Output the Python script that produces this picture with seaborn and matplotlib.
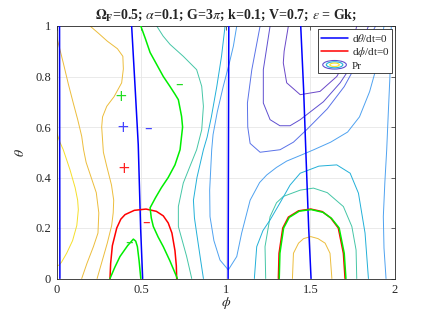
import matplotlib
matplotlib.use("Agg")
import matplotlib.pyplot as plt
import seaborn as sns
import numpy as np
import pandas as pd
from matplotlib.legend_handler import HandlerBase
from matplotlib.patches import Ellipse
from matplotlib.lines import Line2D

# ---------------- data (phi, theta) ----------------
theta_null_1 = [(0.018, 1.0), (0.019, 0.5), (0.020, 0.0)]
theta_null_2 = [(0.444, 1.0), (0.465, 0.75), (0.483, 0.53), (0.497, 0.2), (0.509, 0.0)]
theta_null_3 = [(1.018, 1.0), (1.016, 0.5), (1.014, 0.0)]
theta_null_4 = [(1.443, 1.0), (1.46, 0.75), (1.475, 0.47), (1.49, 0.2), (1.504, 0.0)]

phi_null_1 = [(0.316, 0.0), (0.320, 0.06), (0.330, 0.13), (0.356, 0.2), (0.38, 0.235), (0.405, 0.253),
              (0.46, 0.27), (0.529, 0.275), (0.59, 0.266), (0.631, 0.248), (0.66, 0.22), (0.682, 0.18),
              (0.70, 0.11), (0.708, 0.05), (0.71, 0.0)]
phi_null_2 = [(1.311, 0.0), (1.315, 0.1), (1.337, 0.2), (1.37, 0.243), (1.43, 0.268), (1.502, 0.275),
              (1.57, 0.265), (1.62, 0.24), (1.665, 0.2), (1.695, 0.1), (1.705, 0.0)]

pr_zero_1 = [(0.498, 1.0), (0.525, 0.95), (0.553, 0.895), (0.59, 0.85), (0.631, 0.80), (0.671, 0.76),
             (0.70, 0.73), (0.72, 0.708), (0.739, 0.642), (0.745, 0.60), (0.73, 0.51), (0.70, 0.45),
             (0.66, 0.40), (0.62, 0.36), (0.585, 0.32), (0.553, 0.28), (0.56, 0.24), (0.572, 0.206),
             (0.60, 0.165), (0.631, 0.126), (0.67, 0.07), (0.714, 0.0)]
pr_zero_2 = [(0.316, 0.0), (0.345, 0.045), (0.375, 0.087), (0.42, 0.13), (0.454, 0.156), (0.468, 0.148),
             (0.478, 0.126), (0.488, 0.07), (0.498, 0.0)]
pr_zero_3 = [(1.316, 0.0), (1.32, 0.1), (1.342, 0.2), (1.375, 0.242), (1.435, 0.267), (1.505, 0.273),
             (1.575, 0.262), (1.625, 0.238), (1.67, 0.2), (1.70, 0.1), (1.71, 0.0)]

pr_yellow_1 = [(0.0, 0.58), (0.02, 0.54), (0.04, 0.51), (0.08, 0.43), (0.11, 0.36), (0.125, 0.31),
               (0.129, 0.272), (0.12, 0.21), (0.095, 0.15), (0.06, 0.1), (0.03, 0.065), (0.015, 0.053),
               (0.0, 0.05)]
pr_orange_1 = [(0.0, 0.96), (0.04, 0.854), (0.07, 0.77), (0.099, 0.695), (0.125, 0.63), (0.149, 0.563),
               (0.16, 0.51), (0.175, 0.46), (0.20, 0.41), (0.235, 0.34), (0.25, 0.26), (0.245, 0.18),
               (0.218, 0.126), (0.18, 0.06), (0.149, 0.0)]
pr_orange_2 = [(0.198, 1.0), (0.25, 0.97), (0.30, 0.94), (0.36, 0.91), (0.392, 0.88), (0.395, 0.83),
               (0.385, 0.775), (0.34, 0.72), (0.297, 0.682), (0.272, 0.64), (0.267, 0.6), (0.272, 0.55),
               (0.277, 0.5), (0.297, 0.444), (0.325, 0.37), (0.338, 0.31), (0.335, 0.26), (0.326, 0.21),
               (0.30, 0.14), (0.27, 0.07), (0.24, 0.0)]
pr_orange_3 = [(1.394, 0.0), (1.40, 0.1), (1.43, 0.14), (1.46, 0.158), (1.502, 0.166), (1.545, 0.158),
               (1.587, 0.14), (1.616, 0.1), (1.627, 0.0)]
pr_teal_1 = [(0.592, 1.0), (0.63, 0.96), (0.671, 0.927), (0.749, 0.88), (0.828, 0.827), (0.858, 0.761),
             (0.868, 0.682), (0.858, 0.589), (0.828, 0.51), (0.78, 0.43), (0.749, 0.378), (0.72, 0.285),
             (0.72, 0.206), (0.769, 0.087), (0.799, 0.0)]
pr_teal_2 = [(1.236, 0.0), (1.232, 0.126), (1.262, 0.245), (1.30, 0.30), (1.34, 0.325), (1.44, 0.35),
             (1.518, 0.358), (1.60, 0.34), (1.695, 0.285), (1.745, 0.206), (1.77, 0.113), (1.774, 0.0)]
pr_cyan_1 = [(0.996, 1.0), (0.975, 0.88), (0.947, 0.76), (0.915, 0.64), (0.89, 0.56), (0.868, 0.51),
             (0.83, 0.40), (0.809, 0.31), (0.815, 0.24), (0.828, 0.18), (0.85, 0.08), (0.868, 0.0)]
pr_cyan_2 = [(1.169, 0.0), (1.183, 0.126), (1.22, 0.19), (1.262, 0.232), (1.321, 0.30), (1.38, 0.37),
             (1.44, 0.417), (1.55, 0.445), (1.656, 0.45), (1.735, 0.417), (1.784, 0.338), (1.823, 0.18),
             (1.843, 0.0)]
pr_lblue_1 = [(1.065, 1.0), (1.045, 0.92), (1.02, 0.85), (0.985, 0.76), (0.95, 0.66), (0.925, 0.57),
              (0.917, 0.51), (0.905, 0.35), (0.907, 0.245), (0.93, 0.15), (0.966, 0.073), (1.015, 0.034),
              (1.065, 0.087), (1.094, 0.18), (1.144, 0.31), (1.2, 0.38), (1.242, 0.41), (1.30, 0.44),
              (1.36, 0.465), (1.45, 0.49), (1.52, 0.51), (1.62, 0.54), (1.72, 0.58), (1.79, 0.64),
              (1.85, 0.74), (1.90, 0.86), (1.935, 1.0)]
pr_lblue_2 = [(1.947, 0.0), (1.935, 0.12), (1.931, 0.245), (1.94, 0.38), (1.951, 0.51), (1.96, 0.65),
              (1.97, 0.8), (1.978, 1.0)]
pr_blue_1 = [(1.203, 1.0), (1.154, 0.827), (1.128, 0.695), (1.13, 0.6), (1.144, 0.535), (1.203, 0.5),
             (1.321, 0.51), (1.40, 0.54), (1.479, 0.59), (1.60, 0.672), (1.70, 0.76), (1.79, 0.87),
             (1.885, 1.0)]
pr_purple_1 = [(1.262, 1.0), (1.222, 0.827), (1.222, 0.695), (1.262, 0.629), (1.32, 0.605), (1.38, 0.605),
               (1.44, 0.629), (1.577, 0.70), (1.676, 0.775), (1.77, 0.87), (1.843, 1.0)]
pr_purple_2 = [(1.37, 1.0), (1.345, 0.9), (1.34, 0.854), (1.36, 0.775), (1.44, 0.728), (1.557, 0.741),
               (1.656, 0.8), (1.735, 0.894), (1.774, 1.0)]

sign_labels = ["+", "+", "-", "+", "-", "-", "-"]
sign_phi = [0.381, 0.391, 0.543, 0.399, 0.529, 0.428, 0.726]
sign_theta = [0.72, 0.60, 0.596, 0.437, 0.221, 0.142, 0.768]
sign_colors = ["#22dd22", "#4444ff", "#4444ff", "#ff2222", "#ff2222", "#22dd22", "#22dd22"]

x_ticks = [0, 0.5, 1, 1.5, 2]
x_tick_labels = ["0", "0.5", "1", "1.5", "2"]
y_ticks = [0, 0.2, 0.4, 0.6, 0.8, 1]
y_tick_labels = ["0", "0.2", "0.4", "0.6", "0.8", "1"]

# ---------------- style ----------------
sns.set_style("white")
plt.rcParams["font.family"] = ["Liberation Serif", "DejaVu Serif"]
plt.rcParams["mathtext.fontset"] = "stix"

fig = plt.figure(figsize=(4.36, 3.13), dpi=100)
ax = fig.add_axes([56.5 / 436, (313 - 278.5) / 313, (395 - 56.5) / 436, (278.5 - 26) / 313])


def draw(points, color, lw, z=2):
    df = pd.DataFrame(points, columns=["phi", "theta"])
    sns.lineplot(data=df, x="phi", y="theta", sort=False, estimator=None, color=color,
                 linewidth=lw, ax=ax, zorder=z)


C_Y = "#f5df2a"
C_O = "#ecbd3c"
C_T = "#45c6a6"
C_C = "#22b0d8"
C_LB = "#4fa2f0"
C_B = "#5a72e8"
C_P = "#5f4fd0"
C_P2 = "#6a48c8"
clw = 0.7

for pts, c in [(pr_yellow_1, C_Y), (pr_orange_1, C_O), (pr_orange_2, C_O), (pr_orange_3, C_O),
               (pr_teal_1, C_T), (pr_teal_2, C_T), (pr_cyan_1, C_C), (pr_cyan_2, C_C),
               (pr_lblue_1, C_LB), (pr_lblue_2, C_LB), (pr_blue_1, C_B), (pr_purple_1, C_P),
               (pr_purple_2, C_P2)]:
    draw(pts, c, clw, 2)

for pts in [theta_null_1, theta_null_2, theta_null_3, theta_null_4]:
    draw(pts, "#0000ff", 1.1, 3)
for pts in [phi_null_1, phi_null_2]:
    draw(pts, "#ff0000", 1.1, 3)
for pts in [pr_zero_1, pr_zero_2, pr_zero_3]:
    draw(pts, "#00ee00", 1.1, 4)

for s, px, py, c in zip(sign_labels, sign_phi, sign_theta, sign_colors):
    ax.text(px, py, s if s == "+" else "\u2013", color=c, fontsize=11, ha="center", va="center",
            zorder=5, fontfamily="DejaVu Sans")

ax.set_xlim(0, 2)
ax.set_ylim(0, 1)
ax.set_xticks(x_ticks)
ax.set_xticklabels(x_tick_labels)
ax.set_yticks(y_ticks)
ax.set_yticklabels(y_tick_labels)
ax.tick_params(direction="in", length=3, width=0.5, labelsize=9, top=True, right=True,
               colors="#262626", pad=4)
ax.grid(True, color="#e6e6e6", linewidth=0.6)
for sp in ax.spines.values():
    sp.set_color("#262626")
    sp.set_linewidth(0.6)

ax.set_xlabel(r"$\phi$", fontsize=10, labelpad=-1)
ax.set_ylabel(r"$\theta$", fontsize=10, labelpad=6)
ax.set_title(r"$\mathbf{\Omega_F}$=0.5; $\alpha$=0.1; G=3$\pi$; k=0.1; V=0.7; $\epsilon$ = Gk;",
             fontsize=10, fontweight="bold", pad=5)


class ContourHandler(HandlerBase):
    def create_artists(self, legend, orig_handle, xdescent, ydescent, width, height, fontsize, trans):
        cx = width / 2 - xdescent
        cy = height / 2 - ydescent
        arts = []
        for scale, col in [(1.0, C_P), (0.7, C_C), (0.4, C_Y)]:
            e = Ellipse((cx, cy), width * 0.85 * scale, height * 1.1 * scale, fill=False,
                        edgecolor=col, linewidth=0.8, transform=trans)
            arts.append(e)
        return arts


h1 = Line2D([], [], color="#0000ff", lw=1.1)
h2 = Line2D([], [], color="#ff0000", lw=1.1)
h3 = Ellipse((0, 0), 1, 1)
leg = ax.legend([h1, h2, h3], [r"d$\theta$/dt=0", r"d$\phi$/dt=0", "Pr"],
                handler_map={Ellipse: ContourHandler()}, loc="upper right", fontsize=8,
                frameon=True, fancybox=False, edgecolor="#262626", framealpha=1,
                borderpad=0.2, labelspacing=0.15, handlelength=2.5, handletextpad=0.3,
                borderaxespad=0.3)
leg.get_frame().set_linewidth(0.6)

fig.savefig("out.png", dpi=100)
